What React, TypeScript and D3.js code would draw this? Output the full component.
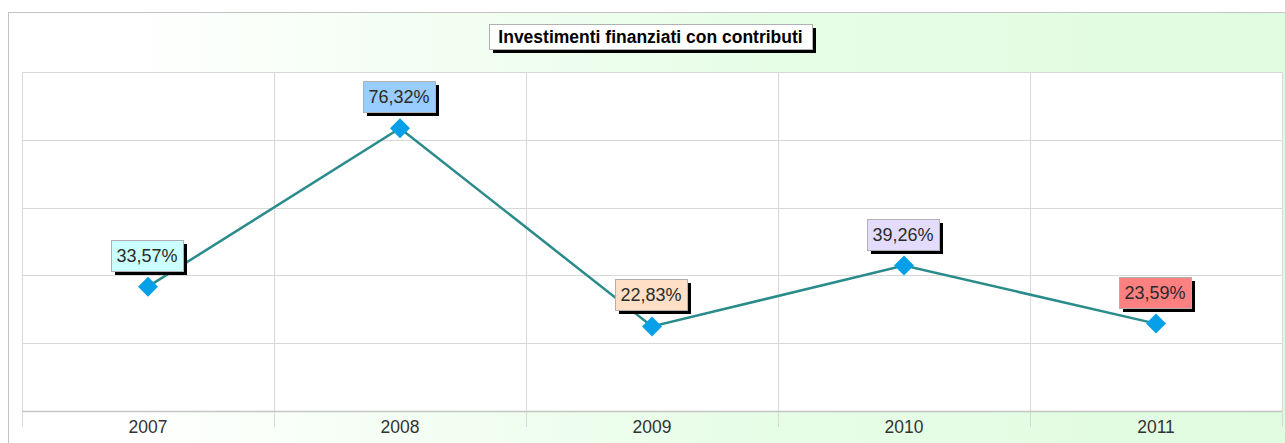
import React, { useEffect, useRef } from "react";
import * as d3 from "d3";

const years = ["2007", "2008", "2009", "2010", "2011"];
const values = [33.57, 76.32, 22.83, 39.26, 23.59];
const labelColors = ["#ccffff", "#99ccff", "#ffdfc6", "#e4dcff", "#ff8080"];
const title = "Investimenti finanziati con contributi";

export default function App() {
  const ref = useRef<SVGSVGElement | null>(null);

  useEffect(() => {
    if (!ref.current) return;
    const W = 1285,
      H = 443;
    const plot = { left: 22, right: 1282, top: 72, bottom: 411 };
    const font = "'Liberation Sans', Arial, sans-serif";

    const svg = d3.select(ref.current);
    svg.selectAll("*").remove();

    const defs = svg.append("defs");
    const grad = defs
      .append("linearGradient")
      .attr("id", "bg")
      .attr("x1", "0")
      .attr("x2", "1")
      .attr("y1", "0")
      .attr("y2", "0");
    grad.append("stop").attr("offset", "0").attr("stop-color", "#ffffff");
    grad.append("stop").attr("offset", "0.08").attr("stop-color", "#ffffff");
    grad.append("stop").attr("offset", "0.6").attr("stop-color", "#e6fde6");
    grad.append("stop").attr("offset", "1").attr("stop-color", "#e0fce0");

    // outer frame
    svg
      .append("rect")
      .attr("x", 8.5)
      .attr("y", 12.5)
      .attr("width", W)
      .attr("height", H)
      .attr("fill", "url(#bg)")
      .attr("stroke", "#c4c4c4");

    const x = d3
      .scaleBand<string>()
      .domain(years)
      .range([plot.left, plot.right])
      .padding(0);
    const yMax = 91.5;
    const y = d3.scaleLinear().domain([0, yMax]).range([plot.bottom, plot.top]);

    // plot area
    svg
      .append("rect")
      .attr("x", plot.left + 0.5)
      .attr("y", plot.top + 0.5)
      .attr("width", plot.right - plot.left)
      .attr("height", plot.bottom - plot.top)
      .attr("fill", "#ffffff")
      .attr("stroke", "#d4d4d4");

    const gridVals = d3.range(6).map((i) => (yMax / 5) * i);
    svg
      .append("g")
      .selectAll("line")
      .data(gridVals)
      .enter()
      .append("line")
      .attr("x1", plot.left)
      .attr("x2", plot.right)
      .attr("y1", (d) => Math.round(y(d)) + 0.5)
      .attr("y2", (d) => Math.round(y(d)) + 0.5)
      .attr("stroke", "#d8d8d8");

    const edges = years.map((d) => x(d) as number).concat([plot.right]);
    svg
      .append("g")
      .selectAll("line")
      .data(edges)
      .enter()
      .append("line")
      .attr("x1", (d) => Math.round(d) + 0.5)
      .attr("x2", (d) => Math.round(d) + 0.5)
      .attr("y1", plot.top)
      .attr("y2", plot.bottom + 16)
      .attr("stroke", "#d8d8d8");

    // bottom axis line
    svg
      .append("line")
      .attr("x1", plot.left)
      .attr("x2", plot.right)
      .attr("y1", plot.bottom + 0.5)
      .attr("y2", plot.bottom + 0.5)
      .attr("stroke", "#c4c4c4")
      .attr("stroke-width", 1.5);

    // x labels
    svg
      .append("g")
      .selectAll("text")
      .data(years)
      .enter()
      .append("text")
      .attr("x", (d) => (x(d) as number) + x.bandwidth() / 2)
      .attr("y", plot.bottom + 22)
      .attr("text-anchor", "middle")
      .attr("font-family", font)
      .attr("font-size", 17.5)
      .attr("fill", "#333")
      .text((d) => d);

    const cx = (i: number) => (x(years[i]) as number) + x.bandwidth() / 2;

    // line
    const line = d3
      .line<number>()
      .x((_, i) => cx(i))
      .y((d) => y(d));
    svg
      .append("path")
      .datum(values)
      .attr("d", line)
      .attr("fill", "none")
      .attr("stroke", "#2a8b8b")
      .attr("stroke-width", 2.5);

    // markers
    svg
      .append("g")
      .selectAll("path")
      .data(values)
      .enter()
      .append("path")
      .attr("transform", (d, i) => `translate(${cx(i)},${y(d)})`)
      .attr("d", "M0,-10L10,0L0,10L-10,0Z")
      .attr("fill", "#05a0e8");

    // value labels
    const bw = 72,
      bh = 31;
    const lab = svg
      .append("g")
      .selectAll("g")
      .data(values)
      .enter()
      .append("g")
      .attr(
        "transform",
        (d, i) => `translate(${Math.round(cx(i) - 1 - bw / 2)},${Math.round(y(d) - 16 - bh)})`
      );
    lab
      .append("rect")
      .attr("x", 4)
      .attr("y", 4)
      .attr("width", bw)
      .attr("height", bh)
      .attr("fill", "#000");
    lab
      .append("rect")
      .attr("x", 0.5)
      .attr("y", 0.5)
      .attr("width", bw)
      .attr("height", bh)
      .attr("fill", (_, i) => labelColors[i])
      .attr("stroke", "#b0b0b0");
    lab
      .append("text")
      .attr("x", bw / 2)
      .attr("y", 22)
      .attr("text-anchor", "middle")
      .attr("font-family", font)
      .attr("font-size", 18)
      .attr("fill", "#2a2a2a")
      .text((d) => d.toFixed(2).replace(".", ",") + "%");

    // title
    const tg = svg.append("g").attr("transform", "translate(489,24)");
    tg.append("rect").attr("x", 4).attr("y", 4).attr("width", 323).attr("height", 25).attr("fill", "#000");
    tg.append("rect")
      .attr("x", 0.5)
      .attr("y", 0.5)
      .attr("width", 323)
      .attr("height", 25)
      .attr("fill", "#fff")
      .attr("stroke", "#b0b0b0");
    tg.append("text")
      .attr("x", 161.5)
      .attr("y", 19)
      .attr("text-anchor", "middle")
      .attr("font-family", font)
      .attr("font-size", 17.5)
      .attr("font-weight", "bold")
      .attr("fill", "#000")
      .text(title);
  }, []);

  return (
    <svg
      ref={ref}
      width={1285}
      height={443}
      style={{ position: "absolute", left: 0, top: 0, display: "block" }}
    />
  );
}
